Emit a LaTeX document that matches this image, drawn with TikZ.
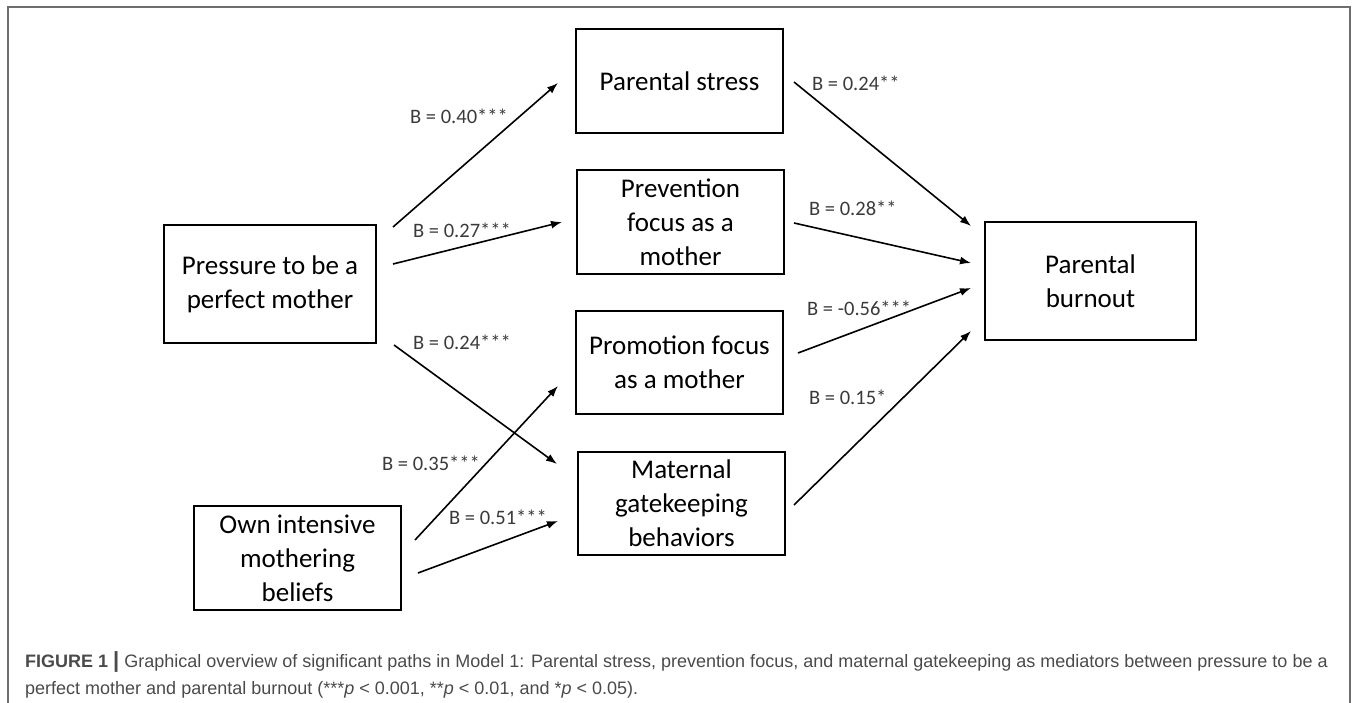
\documentclass[tikz,border=0pt]{standalone}
\usepackage{fontspec}
\setmainfont{Carlito}
\newfontfamily\capfont{Liberation Sans}
\usetikzlibrary{calc,arrows.meta}
\definecolor{framegray}{HTML}{6E6E6E}
\definecolor{labgray}{HTML}{3A3A3A}
\definecolor{capgray}{HTML}{4A4A4A}
\tikzset{
  box/.style={draw, line width=2pt, align=center, inner sep=0pt,
    minimum width=207pt, minimum height=104pt,
    font=\fontsize{27}{34}\selectfont},
  arr/.style={-{Latex[length=11pt,width=8pt]}, line width=1.6pt},
  lab/.style={anchor=west, inner sep=0pt, text=labgray,
    font=\fontsize{20.5}{24}\selectfont},
  capline/.style={anchor=base west, inner sep=0pt, text=capgray,
    font=\capfont\fontsize{18}{26}\selectfont}
}
\begin{document}
\begin{tikzpicture}[x=1pt,y=-1pt]
\useasboundingbox (0,0) rectangle (1357,703);
% frame
\draw[framegray, line width=1.5pt] (8,703) -- (8,7) -- (1350,7) -- (1350,703);
% boxes
\node[box, minimum width=212pt, minimum height=118pt] (press) at (270,284) {Pressure to be a\\perfect mother};
\node[box] (stress) at (679.5,81) {Parental stress};
\node[box] (prev) at (680.5,222) {Prevention\\focus as a\\mother};
\node[box, minimum height=103pt] (promo) at (679.5,362.5) {Promotion focus\\as a mother};
\node[box, minimum height=103pt] (matern) at (681.5,503.5) {Maternal\\gatekeeping\\behaviors};
\node[box] (own) at (297.5,558) {Own intensive\\mothering\\beliefs};
\node[box, minimum width=211pt, minimum height=118pt] (burn) at (1090.5,281) {Parental\\burnout};
% arrows
\draw[arr] ($(press.north east)+(16,3)$) -- ($(stress.west)+(-17,2)$);
\draw[arr] ($(press.east)+(16,-20)$) -- ($(prev.west)+(-14,0)$);
\draw[arr] ($(press.south east)+(17,1)$) -- ($(matern.north west)+(-20,13)$);
\draw[arr] ($(own.east)+(13,-18)$) -- ($(promo.south west)+(-17,-29)$);
\draw[arr] ($(own.east)+(16,15)$) -- ($(matern.west)+(-19,17.5)$);
\draw[arr] ($(stress.east)+(10,1)$) -- ($(burn.north west)+(-13,5)$);
\draw[arr] ($(prev.east)+(9,1)$) -- ($(burn.west)+(-13,-18)$);
\draw[arr] ($(promo.east)+(14,-9.5)$) -- ($(burn.west)+(-13,7)$);
\draw[arr] ($(matern.east)+(8,1.5)$) -- ($(burn.south west)+(-13,-10)$);
% labels
\node[lab] (l1) at (410,116) {B = 0.40***};
\node[lab] (l2) at (413,230) {B = 0.27***};
\node[lab] (l3) at (413,342) {B = 0.24***};
\node[lab] (l4) at (382,463) {B = 0.35***};
\node[lab] (l5) at (449,517) {B = 0.51***};
\node[lab] (l6) at (812,83) {B = 0.24**};
\node[lab] (l7) at (809,208) {B = 0.28**};
\node[lab] (l8) at (807,308) {B = -0.56***};
\node[lab] (l9) at (809,397) {B = 0.15*};
% caption
\node[capline] (cap1) at (25,667) {\textbf{FIGURE 1 {\fontsize{22}{26}\selectfont|}} Graphical overview of significant paths in Model 1: Parental stress, prevention focus, and maternal gatekeeping as mediators between pressure to be a};
\node[capline] (cap2) at (25,694) {perfect mother and parental burnout (***\textit{p} < 0.001, **\textit{p} < 0.01, and *\textit{p} < 0.05).};
\end{tikzpicture}
\end{document}
